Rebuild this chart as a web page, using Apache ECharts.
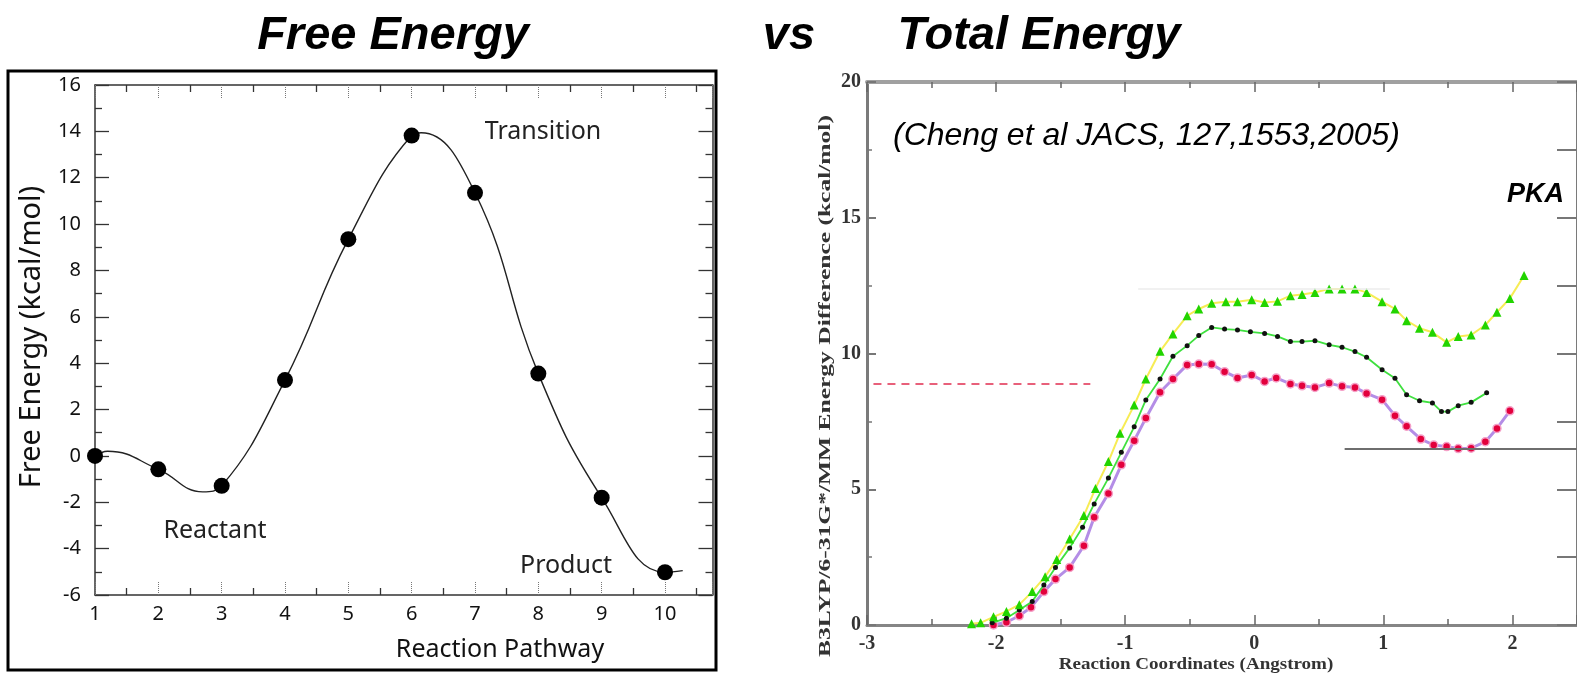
<!DOCTYPE html>
<html>
<head>
<meta charset="utf-8">
<script src="https://cdn.jsdelivr.net/npm/echarts@6/dist/echarts.min.js"></script>
<style>
  html, body { margin: 0; padding: 0; background: #ffffff; }
  #chart { width: 1577px; height: 676px; }
</style>
</head>
<body>
<div id="chart"></div>
<script>
// ---- Left panel: free energy along the reaction pathway ----
const pathwaySteps = [1, 2, 3, 4, 5, 6, 7, 8, 9, 10];
const freeEnergy = [0, -0.58, -1.29, 3.27, 9.35, 13.82, 11.35, 3.55, -1.8, -5.02];
// fitted profile drawn under the points, with its turning points
const profileX = [1, 1.2, 2, 2.7, 3, 4, 5, 6, 6.15, 7, 8, 9, 10, 10.28];
const profileY = [0, 0.2, -0.58, -1.55, -1.29, 3.27, 9.35, 13.82, 13.94, 11.35, 3.55, -1.8, -5.02, -4.95];

// ---- Right panel: QM/MM energy difference vs reaction coordinate ----
const triX = [-2.19, -2.12, -2.02, -1.92, -1.82, -1.72, -1.62, -1.53, -1.43, -1.32, -1.23, -1.13, -1.04, -0.93, -0.84,
  -0.73, -0.63, -0.52, -0.43, -0.33, -0.22, -0.13, -0.02, 0.08, 0.18, 0.28, 0.37, 0.47, 0.58, 0.68,
  0.78, 0.87, 0.99, 1.09, 1.18, 1.28, 1.38, 1.49, 1.58, 1.68, 1.79, 1.88, 1.98, 2.09];
const triY = [0.05, 0.08, 0.3, 0.5, 0.75, 1.23, 1.78, 2.41, 3.17, 4.03, 5.03, 6.02, 7.06, 8.10, 9.06,
  10.08, 10.72, 11.39, 11.64, 11.85, 11.91, 11.91, 11.98, 11.88, 11.92, 12.13, 12.17, 12.25, 12.38, 12.38,
  12.38, 12.25, 11.91, 11.64, 11.21, 10.93, 10.78, 10.41, 10.63, 10.68, 11.05, 11.52, 12.03, 12.87];

const dotX = [-2.03, -1.92, -1.82, -1.72, -1.63, -1.54, -1.43, -1.33, -1.24, -1.13, -1.03, -0.93, -0.84, -0.73, -0.63,
  -0.52, -0.43, -0.33, -0.23, -0.13, -0.03, 0.08, 0.18, 0.28, 0.37, 0.47, 0.58, 0.68, 0.78, 0.87,
  0.99, 1.09, 1.18, 1.28, 1.38, 1.45, 1.50, 1.58, 1.68, 1.80];
const dotY = [0.08, 0.25, 0.55, 0.87, 1.47, 2.12, 2.84, 3.60, 4.46, 5.41, 6.36, 7.30, 8.29, 9.06, 9.90,
  10.29, 10.66, 10.96, 10.90, 10.87, 10.80, 10.74, 10.63, 10.44, 10.44, 10.47, 10.32, 10.23, 10.07, 9.86,
  9.40, 9.09, 8.48, 8.26, 8.18, 7.86, 7.86, 8.08, 8.20, 8.55];

const redX = [-2.02, -1.92, -1.82, -1.73, -1.63, -1.54, -1.43, -1.32, -1.24, -1.13, -1.03, -0.93, -0.84, -0.73, -0.63,
  -0.52, -0.43, -0.33, -0.23, -0.13, -0.02, 0.08, 0.17, 0.28, 0.37, 0.47, 0.58, 0.68, 0.78, 0.87,
  0.99, 1.09, 1.18, 1.29, 1.39, 1.49, 1.58, 1.68, 1.79, 1.88, 1.98];
const redY = [0.0, 0.1, 0.34, 0.65, 1.23, 1.69, 2.12, 2.92, 3.97, 4.84, 5.90, 6.79, 7.62, 8.57, 9.06,
  9.58, 9.61, 9.60, 9.33, 9.10, 9.21, 8.97, 9.10, 8.88, 8.81, 8.75, 8.91, 8.79, 8.75, 8.53,
  8.30, 7.71, 7.32, 6.85, 6.63, 6.57, 6.50, 6.51, 6.75, 7.24, 7.89];

// stray reference levels in the right panel: [level, from, to]
const dashedLevel = [8.9, -2.95, -1.27];
const faintLevel = [12.4, -0.9, 1.05];
const baseLevel = [6.5, 0.7, 2.5];

const pairs = (xs, ys) => xs.map((x, i) => [x, ys[i]]);

const leftFont = '"Noto Sans", "Open Sans", sans-serif';
const serifFont = '"Liberation Serif", "DejaVu Serif", serif';
const sansFont = '"Liberation Sans", Arial, sans-serif';

const leftX = (pos) => ({
  type: 'value', gridIndex: 0, position: pos, min: 1, max: 10.75, interval: 1,
  axisLine: { onZero: false, lineStyle: { color: '#333', width: 1.5 } },
  axisTick: { inside: true, length: 13, lineStyle: { color: '#777', type: 'dotted', width: 1 } },
  minorTick: { show: true, splitNumber: 2, length: 7, lineStyle: { color: '#333', width: 1.3 } },
  splitLine: { show: false },
  axisLabel: pos === 'bottom' ? {
    show: true, margin: 9, fontSize: 20, color: '#111', fontFamily: leftFont,
    formatter: v => Number.isInteger(v) ? String(v) : ''
  } : { show: false }
});
const leftY = (pos) => ({
  type: 'value', gridIndex: 0, position: pos, min: -6, max: 16, interval: 2,
  axisLine: { onZero: false, lineStyle: { color: '#333', width: 1.5 } },
  axisTick: { inside: true, length: 14, lineStyle: { color: '#333', width: 1.3 } },
  minorTick: { show: true, splitNumber: 2, length: 7, lineStyle: { color: '#333', width: 1.3 } },
  splitLine: { show: false },
  axisLabel: pos === 'left' ? { show: true, margin: 14, fontSize: 20, color: '#111', fontFamily: leftFont } : { show: false }
});

const rightX = (pos) => ({
  type: 'value', gridIndex: 1, position: pos, min: -3, max: 2.5, interval: 1,
  axisLine: { onZero: false, lineStyle: { color: pos === 'top' ? '#a0a0a0' : '#858585', width: pos === 'top' ? 4 : 3 } },
  axisTick: { inside: true, length: 10, lineStyle: { color: '#666', width: 1.5 } },
  minorTick: { show: true, splitNumber: 2, length: 6, lineStyle: { color: '#666', width: 1.5 } },
  splitLine: { show: false },
  axisLabel: pos === 'bottom' ? {
    show: true, margin: 9, fontSize: 20, fontWeight: 'bold', color: '#333', fontFamily: serifFont,
    showMaxLabel: false, formatter: v => Number.isInteger(v) ? String(v) : ''
  } : { show: false }
});
const rightY = (pos) => ({
  type: 'value', gridIndex: 1, position: pos, min: 0, max: 20, interval: pos === 'left' ? 5 : 2.5,
  axisLine: { onZero: false, lineStyle: { color: '#7a7a7a', width: 3 } },
  axisTick: { inside: true, length: pos === 'left' ? 9 : 20, lineStyle: { color: '#777', width: 2 } },
  minorTick: { show: pos === 'left', splitNumber: 2, length: 5, lineStyle: { color: '#777', width: 1.5 } },
  splitLine: { show: false },
  axisLabel: pos === 'left' ? { show: true, margin: 6, fontSize: 20, fontWeight: 'bold', color: '#333', fontFamily: serifFont } : { show: false }
});

const levelLine = (lvl, color, width, type) => [
  { coord: [lvl[1], lvl[0]], lineStyle: { color, width, type } },
  { coord: [lvl[2], lvl[0]] }
];

const option = {
  animation: false,
  backgroundColor: '#ffffff',
  grid: [
    { left: 95, top: 85, width: 617.5, height: 510 },
    { left: 867, top: 82, width: 719, height: 543 }
  ],
  xAxis: [leftX('bottom'), leftX('top'), rightX('bottom'), rightX('top')],
  yAxis: [leftY('left'), leftY('right'), rightY('left'), rightY('right')],
  series: [
    {
      type: 'line', xAxisIndex: 0, yAxisIndex: 0, data: pairs(profileX, profileY),
      smooth: 0.45, showSymbol: false, lineStyle: { color: '#222', width: 1.4 }, z: 2
    },
    {
      type: 'scatter', xAxisIndex: 0, yAxisIndex: 0, data: pairs(pathwaySteps, freeEnergy),
      symbol: 'circle', symbolSize: 16, itemStyle: { color: '#000', opacity: 1 }, z: 3
    },
    {
      type: 'line', xAxisIndex: 2, yAxisIndex: 2, data: pairs(redX, redY), z: 1,
      symbol: 'circle', symbolSize: 8, itemStyle: { color: '#e3003c', borderColor: '#f5a0c8', borderWidth: 1.5 },
      lineStyle: { color: '#b48de6', width: 3 },
      markLine: {
        silent: true, symbol: ['none', 'none'], label: { show: false },
        data: [
          levelLine(dashedLevel, '#e8607a', 2, [8, 6]),
          levelLine(faintLevel, '#ededed', 1.5, 'solid'),
          levelLine(baseLevel, '#6e6e6e', 2, 'solid')
        ]
      }
    },
    {
      type: 'line', xAxisIndex: 2, yAxisIndex: 2, data: pairs(dotX, dotY), z: 2,
      symbol: 'circle', symbolSize: 5, itemStyle: { color: '#111' },
      lineStyle: { color: '#3fe03f', width: 1.8 }
    },
    {
      type: 'line', xAxisIndex: 2, yAxisIndex: 2, data: pairs(triX, triY), z: 2,
      symbol: 'triangle', symbolSize: 9, itemStyle: { color: '#22d400' },
      lineStyle: { color: '#f7ec55', width: 2 }
    }
  ],
  graphic: [
    // panel titles
    { type: 'text', x: 393, y: 36, style: { text: 'Free Energy', font: 'italic bold 47px ' + sansFont, fill: '#000', textAlign: 'center', textVerticalAlign: 'middle' } },
    { type: 'text', x: 789, y: 36, style: { text: 'vs', font: 'italic bold 47px ' + sansFont, fill: '#000', textAlign: 'center', textVerticalAlign: 'middle' } },
    { type: 'text', x: 1039, y: 36, style: { text: 'Total Energy', font: 'italic bold 47px ' + sansFont, fill: '#000', textAlign: 'center', textVerticalAlign: 'middle' } },
    // left panel frame
    { type: 'rect', shape: { x: 8, y: 71, width: 708, height: 599 }, style: { fill: 'none', stroke: '#000', lineWidth: 3 }, z: 10 },
    // left panel annotations
    { type: 'text', x: 543, y: 132, style: { text: 'Transition', font: '25px ' + leftFont, fill: '#222', textAlign: 'center', textVerticalAlign: 'middle' } },
    { type: 'text', x: 215, y: 531, style: { text: 'Reactant', font: '25px ' + leftFont, fill: '#222', textAlign: 'center', textVerticalAlign: 'middle' } },
    { type: 'text', x: 566, y: 566, style: { text: 'Product', font: '25px ' + leftFont, fill: '#222', textAlign: 'center', textVerticalAlign: 'middle' } },
    { type: 'text', x: 500, y: 650, style: { text: 'Reaction Pathway', font: '25px ' + leftFont, fill: '#111', textAlign: 'center', textVerticalAlign: 'middle' } },
    { type: 'text', x: 32, y: 337, rotation: Math.PI / 2, style: { text: 'Free Energy (kcal/mol)', font: '29px ' + leftFont, fill: '#111', textAlign: 'center', textVerticalAlign: 'middle' } },
    // right panel annotations
    { type: 'text', x: 893, y: 136, style: { text: '(Cheng et al JACS, 127,1553,2005)', font: 'italic 32px ' + sansFont, fill: '#000', textAlign: 'left', textVerticalAlign: 'middle' } },
    { type: 'text', x: 1507, y: 195, style: { text: 'PKA', font: 'italic bold 27px ' + sansFont, fill: '#000', textAlign: 'left', textVerticalAlign: 'middle' } },
    { type: 'text', x: 1196, y: 665, scaleX: 1.12, style: { text: 'Reaction Coordinates (Angstrom)', font: 'bold 17px ' + serifFont, fill: '#333', textAlign: 'center', textVerticalAlign: 'middle' } },
    { type: 'text', x: 826, y: 386, rotation: Math.PI / 2, scaleX: 1.5, style: { text: 'B3LYP/6-31G*/MM Energy Difference (kcal/mol)', font: 'bold 17px ' + serifFont, fill: '#333', textAlign: 'center', textVerticalAlign: 'middle' } }
  ]
};

const chart = echarts.init(document.getElementById('chart'), null, { renderer: 'canvas' });
chart.setOption(option);
</script>
</body>
</html>
